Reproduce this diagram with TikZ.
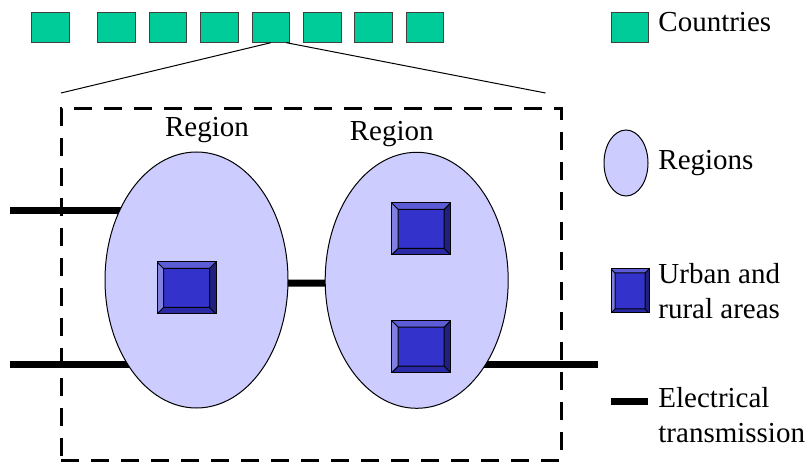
\documentclass[tikz,border=0pt]{standalone}
\usepackage{fontspec}
\setmainfont{Liberation Serif}
\usepackage{tikz}
\usetikzlibrary{shapes.geometric, positioning, backgrounds}

\definecolor{country_fill}{HTML}{00CC99}
\definecolor{region_fill}{HTML}{CCCCFF}
\definecolor{urban_face}{HTML}{3333CC}
\definecolor{urban_top}{HTML}{5C5CD6}
\definecolor{urban_left}{HTML}{8080E0}
\definecolor{urban_bottom}{HTML}{2A2AA6}
\definecolor{urban_right}{HTML}{20207F}

\tikzset{
  label_font/.style = {font=\fontsize{14.5pt}{17.5pt}\selectfont},
  thin_line/.style = {line width=0.5pt},
  bevel_size/.store in = \bevelsize,
  bevel_size = 3.25pt
}
\tikzset{
  country/.style = {draw=black!75, thin_line, fill=country_fill, minimum width=18.75pt, minimum height=15pt, inner sep=0, outer sep=0},
  region/.style = {ellipse, draw=black, thin_line, fill=region_fill, inner sep=0, outer sep=0},
  urban/.style = {draw=black, thin_line, fill=urban_face, inner sep=0, outer sep=0,
    path picture={
      \path (path picture bounding box.south west) coordinate (o_sw)
            (path picture bounding box.south east) coordinate (o_se)
            (path picture bounding box.north east) coordinate (o_ne)
            (path picture bounding box.north west) coordinate (o_nw);
      \path ([shift={(\bevelsize,\bevelsize)}]o_sw) coordinate (i_sw)
            ([shift={(-\bevelsize,\bevelsize)}]o_se) coordinate (i_se)
            ([shift={(-\bevelsize,-\bevelsize)}]o_ne) coordinate (i_ne)
            ([shift={(\bevelsize,-\bevelsize)}]o_nw) coordinate (i_nw);
      \fill[urban_top] (o_nw) -- (o_ne) -- (i_ne) -- (i_nw) -- cycle;
      \fill[urban_left] (o_nw) -- (i_nw) -- (i_sw) -- (o_sw) -- cycle;
      \fill[urban_bottom] (o_sw) -- (i_sw) -- (i_se) -- (o_se) -- cycle;
      \fill[urban_right] (o_se) -- (i_se) -- (i_ne) -- (o_ne) -- cycle;
      \draw[thin_line] (i_sw) rectangle (i_ne)
        (o_sw) -- (i_sw) (o_se) -- (i_se) (o_ne) -- (i_ne) (o_nw) -- (i_nw);
    }},
  wire/.style = {line width=3.5pt, black},
  frame_box/.style = {draw, line width=1.5pt, dash pattern=on 9pt off 6pt, inner sep=0, outer sep=0},
  zoom_line/.style = {thin_line},
  caption/.style = {label_font, inner sep=0, anchor=base},
  legend_text/.style = {label_font, inner sep=0, align=left}
}

\begin{document}
\begin{tikzpicture}[x=0.5pt, y=-0.5pt, node distance=6.95pt]
        \useasboundingbox (0,0) rectangle (808,464);

        % Countries
        \node[country] at (50.45,27.7) (c1) {};
        \node[country, right=14.35pt of c1] (c2) {};
        \node[country, right=of c2] (c3) {};
        \node[country, right=of c3] (c4) {};
        \node[country, right=of c4] (c5) {};
        \node[country, right=of c5] (c6) {};
        \node[country, right=of c6] (c7) {};
        \node[country, right=of c7] (c8) {};

        % Zoomed country
        \node[frame_box, minimum width=250pt, minimum height=175.5pt] at (311,284.5) (frame) {};

        % Regions
        \node[region, minimum width=91.5pt, minimum height=128pt] at (196.5,280) (reg_l) {};
        \node[region, minimum width=91.5pt, minimum height=128pt] at (416.7,280.3) (reg_r) {};
        \node[caption] at (207,136.7) (lab_l) {Region};
        \node[caption] at (391.7,140.7) (lab_r) {Region};

        % Urban and rural areas
        \node[urban, minimum width=29.5pt, minimum height=26pt] at (186.5,288) (u_1) {};
        \node[urban, minimum width=29.5pt, minimum height=26pt] at (421.2,229) (u_2) {};
        \node[urban, minimum width=29.5pt, minimum height=26pt] at (421.2,346.7) (u_3) {};

        % Legend
        \node[country] at (630,28) (k_country) {};
        \node[region, minimum width=22pt, minimum height=33pt] at (626,163) (k_region) {};
        \node[urban, bevel_size=2pt, minimum width=19pt, minimum height=22pt] at (630,291) (k_urban) {};
        \node[fill=black, minimum width=18.5pt, minimum height=3.5pt, inner sep=0] at (629.5,402) (k_wire) {};

        \node[legend_text, anchor=base west] at (658,32) (t_country) {Countries};
        \node[legend_text, anchor=base west] at (658,170) (t_region) {Regions};
        \node[legend_text, anchor=north west] at (658,263) (t_urban) {Urban and\\rural areas};
        \node[legend_text, anchor=north west] at (658,387) (t_wire) {Electrical\\transmission};

        % Arrows and lines
        \draw[zoom_line] (c5.south)--([yshift=8pt]frame.north west);
        \draw[zoom_line] ([xshift=-1.65pt]c5.south east)--([xshift=-7.75pt, yshift=8pt]frame.north east);

        \coordinate (w_tl) at (10,211);
        \coordinate (w_bl) at (10,365);
        \coordinate (w_r) at (598,365);
        \begin{scope}[on background layer]
            \draw[wire] (w_tl)--(w_tl -| reg_l.center);
            \draw[wire] (w_bl)--(w_bl -| reg_l.center);
            \draw[wire] ([yshift=-1.5pt]reg_l.center)--([yshift=-1.5pt]reg_r.center);
            \draw[wire] (w_r)--(w_r -| reg_r.center);
        \end{scope}
    \end{tikzpicture}
\end{document}
